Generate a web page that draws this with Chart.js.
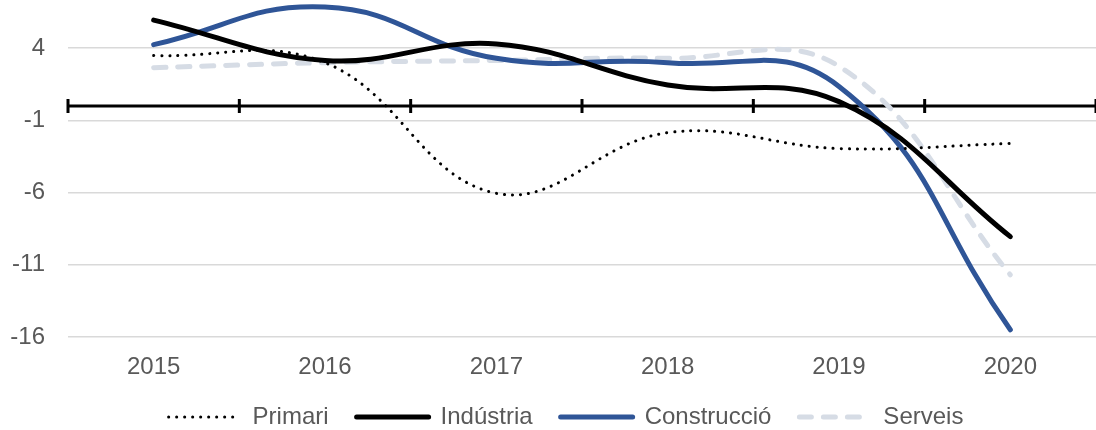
<!DOCTYPE html>
<html>
<head>
<meta charset="utf-8">
<script src="https://cdn.jsdelivr.net/npm/chart.js@4.4.1/dist/chart.umd.min.js"></script>
<style>
  html, body { margin: 0; padding: 0; background: #fff; }
  #wrap { width: 1096px; height: 430px; }
</style>
</head>
<body>
<div id="wrap"><canvas id="myChart" width="1096" height="430"></canvas></div>
<script>
const years = ['2015', '2016', '2017', '2018', '2019', '2020'];
const primari = [3.5, 3.0, -6.05, -1.85, -2.95, -2.6];
const industria = [5.95, 3.15, 4.3, 1.45, 0.3, -9.05];
const construccio = [4.25, 6.85, 3.3, 3.0, 1.35, -15.5];
const serveis = [2.65, 3.0, 3.15, 3.3, 2.75, -11.7];
const yTicks = [-16, -11, -6, -1, 4];

const textColor = '#595959';
Chart.defaults.font.family = "'Liberation Sans', Arial, sans-serif";
Chart.defaults.font.size = 24;
Chart.defaults.color = textColor;

// horizontal axis crossing at 0, with tick marks between categories
const zeroAxis = {
  id: 'zeroAxis',
  afterLayout(chart) {
    // nudge legend to sit where it does in the original
    chart.legend.left += 13;
    chart.legend.right += 13;
  },
  beforeDatasetsDraw(chart) {
    const {ctx, chartArea, scales: {x, y}} = chart;
    const y0 = y.getPixelForValue(0);
    const step = x.getPixelForValue(1) - x.getPixelForValue(0);
    ctx.save();
    ctx.strokeStyle = '#000';
    ctx.lineWidth = 3;
    ctx.beginPath();
    ctx.moveTo(chartArea.left, y0);
    ctx.lineTo(chartArea.right, y0);
    for (let i = 0; i <= years.length; i++) {
      const px = x.getPixelForValue(0) - step / 2 + i * step;
      ctx.moveTo(px, y0 - 7);
      ctx.lineTo(px, y0 + 7);
    }
    ctx.stroke();
    ctx.restore();
  }
};

const data = {
  labels: years,
  datasets: [{
    label: 'Primari',
    data: primari,
    borderColor: '#000000',
    borderWidth: 3,
    borderDash: [0.1, 7.9],
    borderCapStyle: 'round',
    tension: 0.4
  }, {
    label: 'Indústria',
    data: industria,
    borderColor: '#000000',
    borderWidth: 5,
    borderCapStyle: 'round',
    tension: 0.4
  }, {
    label: 'Construcció',
    data: construccio,
    borderColor: '#2F5597',
    borderWidth: 5,
    borderCapStyle: 'round',
    tension: 0.45
  }, {
    label: 'Serveis',
    data: serveis,
    borderColor: '#D6DCE5',
    borderWidth: 5,
    borderDash: [12, 12],
    borderCapStyle: 'round',
    tension: 0.4
  }]
};

// legend samples take the dataset's own line style
function legendLabels(chart) {
  return chart.data.datasets.map((ds, i) => ({
    text: ds.label,
    fontColor: textColor,
    fillStyle: ds.borderColor,
    strokeStyle: ds.borderColor,
    lineWidth: ds.borderWidth,
    lineDash: ds.borderDash || [],
    lineCap: ds.borderCapStyle,
    pointStyle: 'line',
    datasetIndex: i
  }));
}

const config = {
  type: 'line',
  data: data,
  plugins: [zeroAxis],
  options: {
    responsive: false,
    animation: false,
    layout: {
      padding: {left: 10, right: 0, top: 0, bottom: -9}
    },
    elements: {
      point: { radius: 0, hoverRadius: 0 }
    },
    plugins: {
      tooltip: { enabled: false },
      legend: {
        position: 'bottom',
        labels: {
          usePointStyle: true,
          pointStyleWidth: 72,
          padding: 28,
          color: textColor,
          font: { size: 24 },
          generateLabels: legendLabels
        }
      }
    },
    scales: {
      x: {
        offset: true,
        grid: { display: false, drawTicks: false },
        border: { display: false },
        ticks: { padding: 16, color: textColor },
        afterFit(s) { s.height = 40; }
      },
      y: {
        min: -16,
        max: 7.34,
        grid: { color: '#D9D9D9', lineWidth: 1.5, drawTicks: false },
        border: { display: false },
        ticks: { padding: 23, color: textColor },
        afterBuildTicks(s) { s.ticks = yTicks.map(v => ({value: v})); },
        afterFit(s) {
          s.width = 58;
          s.paddingTop = 0;
          s.paddingBottom = 0;
        }
      }
    }
  }
};

var myChart = new Chart(document.getElementById('myChart'), config);
</script>
</body>
</html>
